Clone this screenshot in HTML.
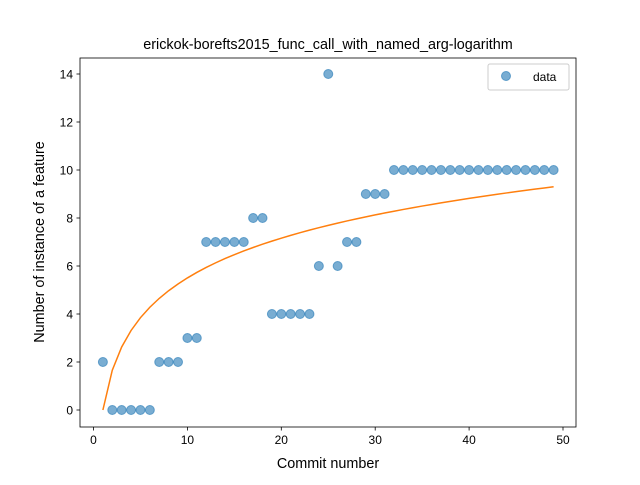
<!DOCTYPE html>
<html><head><meta charset="utf-8"><style>
body{margin:0;background:#fff;}
svg{font-family:"Liberation Sans",sans-serif;}
</style></head><body>
<svg id="chart" width="640" height="480" viewBox="0 0 640 480">
<rect x="0" y="0" width="640" height="480" fill="#fff"/>
<text x="328" y="49" text-anchor="middle" font-size="14.4">erickok-borefts2015_func_call_with_named_arg-logarithm</text>
<g id="marks"></g>
<g id="axes"></g>
<text x="328" y="468" text-anchor="middle" font-size="14.4">Commit number</text>
<text transform="translate(44,242) rotate(-90)" text-anchor="middle" font-size="14.4">Number of instance of a feature</text>
<g>
<rect x="488" y="64" width="81" height="26" rx="2" fill="#fff" stroke="#ccc"/>
<circle cx="506" cy="76" r="4.5" fill="#1f77b4" fill-opacity="0.6" stroke="#1f77b4" stroke-opacity="0.6"/>
<text x="533" y="81" font-size="12">data</text>
</g>
</svg>
<script>
const commits = [];
for (let i = 1; i <= 49; i++) commits.push(i);
const counts = [2,0,0,0,0,0,2,2,2,3,3,7,7,7,7,7,8,8,4,4,4,4,4,6,14,6,7,7,9,9,9,10,10,10,10,10,10,10,10,10,10,10,10,10,10,10,10,10,10];
const fitParams = [0, 2.39];
const xTicks = [0,10,20,30,40,50];
const yTicks = [0,2,4,6,8,10,12,14];

const NS = "http://www.w3.org/2000/svg";
const L=80,R=576,T=58,B=427;
const xs = v => 93.5 + v*9.39;
const ys = v => 410 - v*24;
const marks = document.getElementById('marks');
const axes = document.getElementById('axes');
function mk(tag, attrs, parent){const e=document.createElementNS(NS,tag);for(const k in attrs)e.setAttribute(k,attrs[k]);parent.appendChild(e);return e;}

commits.forEach((c,i)=>{
  const p = mk('circle',{cx:xs(c),cy:ys(counts[i]),r:4.5,fill:'#1f77b4','fill-opacity':0.6,stroke:'#1f77b4','stroke-opacity':0.6},marks);
  
  
});
let d='';
commits.forEach((c,i)=>{const y=fitParams[0]+fitParams[1]*Math.log(c);d+=(i?'L':'M')+xs(c).toFixed(2)+','+ys(y).toFixed(2);});
const fl = mk('path',{d:d,fill:'none',stroke:'#ff7f0e','stroke-width':1.5},marks);



const frame = mk('rect',{x:L,y:T,width:R-L,height:B-T,fill:'none',stroke:'#000','stroke-width':0.8},axes);


xTicks.forEach(t=>{
  const x=xs(t);
  const tk = mk('line',{x1:x,x2:x,y1:B,y2:B+3.5,stroke:'#000','stroke-width':0.8},axes);
  
  
  const tx = mk('text',{x:x,y:B+17,'text-anchor':'middle','font-size':12},axes);
  tx.textContent=t;
  
  
});
yTicks.forEach(t=>{
  const y=ys(t);
  const tk = mk('line',{x1:L-3.5,x2:L,y1:y,y2:y,stroke:'#000','stroke-width':0.8},axes);
  
  
  const tx = mk('text',{x:L-7,y:y+4.3,'text-anchor':'end','font-size':12},axes);
  tx.textContent=t;
  
  
});
</script>
</body></html>
